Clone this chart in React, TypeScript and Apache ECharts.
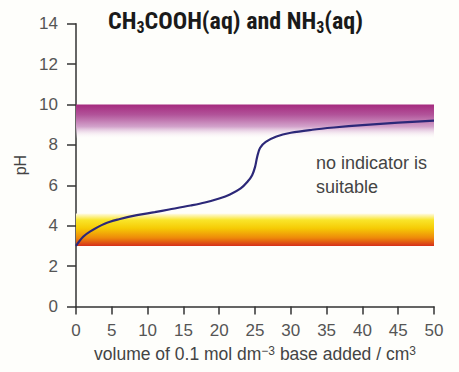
import React, { useEffect, useRef } from "react";
import * as echarts from "echarts";

const volumes = [0, 1, 2, 4, 6, 8.5, 11, 13, 16, 18, 20, 21.5, 23, 24, 24.6, 25, 25.3, 25.7, 26.5, 28, 30, 33, 36, 40, 45, 50];
const phValues = [3.0, 3.45, 3.72, 4.1, 4.32, 4.52, 4.67, 4.8, 5.0, 5.15, 5.35, 5.55, 5.85, 6.2, 6.5, 6.9, 7.4, 7.85, 8.15, 8.42, 8.6, 8.75, 8.86, 8.98, 9.1, 9.2];
const phenolphthaleinRange = [8.3, 10];
const methylOrangeRange = [3.0, 4.6];
const xTicks = { min: 0, max: 50, interval: 5 };
const yTicks = { min: 0, max: 14, interval: 2 };

export default function App() {
  const ref = useRef<HTMLDivElement>(null);
  useEffect(() => {
    if (!ref.current) return;
    const chart = echarts.init(ref.current, undefined, { renderer: "svg" });
    const font = "'Liberation Sans', Arial, sans-serif";
    const titleFont = "'Liberation Sans Narrow', 'Roboto Condensed', 'Liberation Sans', sans-serif";
    const axisCol = "#333";
    chart.setOption({
      animation: false,
      backgroundColor: "#fefefb",
      title: {
        left: 103,
        top: 2,
        text: "{a|CH}{s|3}{a|COOH(aq) and NH}{s|3}{a|(aq)}",
        textStyle: {
          rich: {
            a: { fontFamily: titleFont, fontWeight: "bold", fontSize: 24, color: "#1a1a1a", lineHeight: 28 },
            s: { fontFamily: titleFont, fontWeight: "bold", fontSize: 16, color: "#1a1a1a", lineHeight: 16, verticalAlign: "bottom", padding: [6, 0, 0, 0] },
          },
        },
      },
      grid: { left: 76, right: 25, top: 23.7, bottom: 65.5, containLabel: false },
      xAxis: {
        type: "value",
        min: xTicks.min,
        max: xTicks.max,
        interval: xTicks.interval,
        name: "volume of 0.1 mol dm{sup|−3} base added / cm{sup|3}",
        nameLocation: "middle",
        nameGap: 38,
        nameTextStyle: {
          fontFamily: font, fontSize: 17.5, color: "#444",
          rich: {
            sup: { fontFamily: font, fontSize: 12, color: "#444", verticalAlign: "top", padding: [0, 0, 8, 0], lineHeight: 12 },
          },
        },
        axisLine: { lineStyle: { color: axisCol, width: 1.5 } },
        axisTick: { length: 8, lineStyle: { color: axisCol, width: 1.5 } },
        axisLabel: { fontFamily: font, fontSize: 17, color: "#555", margin: 15 },
        splitLine: { show: false },
      },
      yAxis: {
        type: "value",
        min: yTicks.min,
        max: yTicks.max,
        interval: yTicks.interval,
        name: "pH",
        nameLocation: "middle",
        nameGap: 48,
        nameTextStyle: { fontFamily: font, fontSize: 16, color: "#444" },
        axisLine: { show: true, lineStyle: { color: axisCol, width: 1.5 } },
        axisTick: { show: true, length: 9, lineStyle: { color: axisCol, width: 1.5 } },
        axisLabel: { fontFamily: font, fontSize: 17, color: "#555", margin: 18 },
        splitLine: { show: false },
      },
      graphic: [
        {
          type: "text",
          left: 316,
          top: 151,
          style: {
            text: "no indicator is\nsuitable",
            fontFamily: font,
            fontSize: 18,
            lineHeight: 24,
            fill: "#444",
          },
        },
      ],
      series: [
        {
          type: "line",
          data: volumes.map((v, i) => [v, phValues[i]]),
          smooth: 0.35,
          showSymbol: false,
          lineStyle: { color: "#2c2878", width: 2.2 },
          z: 5,
          markArea: {
            silent: true,
            data: [
              [
                {
                  xAxis: xTicks.min,
                  yAxis: phenolphthaleinRange[1],
                  itemStyle: {
                    color: new echarts.graphic.LinearGradient(0, 0, 0, 1, [
                      { offset: 0, color: "#a52a7e" },
                      { offset: 0.3, color: "#b2549a" },
                      { offset: 0.65, color: "#d3a4cc" },
                      { offset: 1, color: "rgba(255,255,255,0)" },
                    ]),
                  },
                },
                { xAxis: xTicks.max, yAxis: phenolphthaleinRange[0] },
              ],
              [
                {
                  xAxis: xTicks.min,
                  yAxis: methylOrangeRange[1],
                  itemStyle: {
                    color: new echarts.graphic.LinearGradient(0, 0, 0, 1, [
                      { offset: 0, color: "#fffbe6" },
                      { offset: 0.2, color: "#f9e52a" },
                      { offset: 0.45, color: "#f6cc05" },
                      { offset: 0.75, color: "#ee8a0a" },
                      { offset: 1, color: "#d6301a" },
                    ]),
                  },
                },
                { xAxis: xTicks.max, yAxis: methylOrangeRange[0] },
              ],
            ],
          },
        },
      ],
    });
    return () => chart.dispose();
  }, []);
  return <div ref={ref} style={{ position: "fixed", left: 0, top: 0, width: 459, height: 372 }} />;
}
